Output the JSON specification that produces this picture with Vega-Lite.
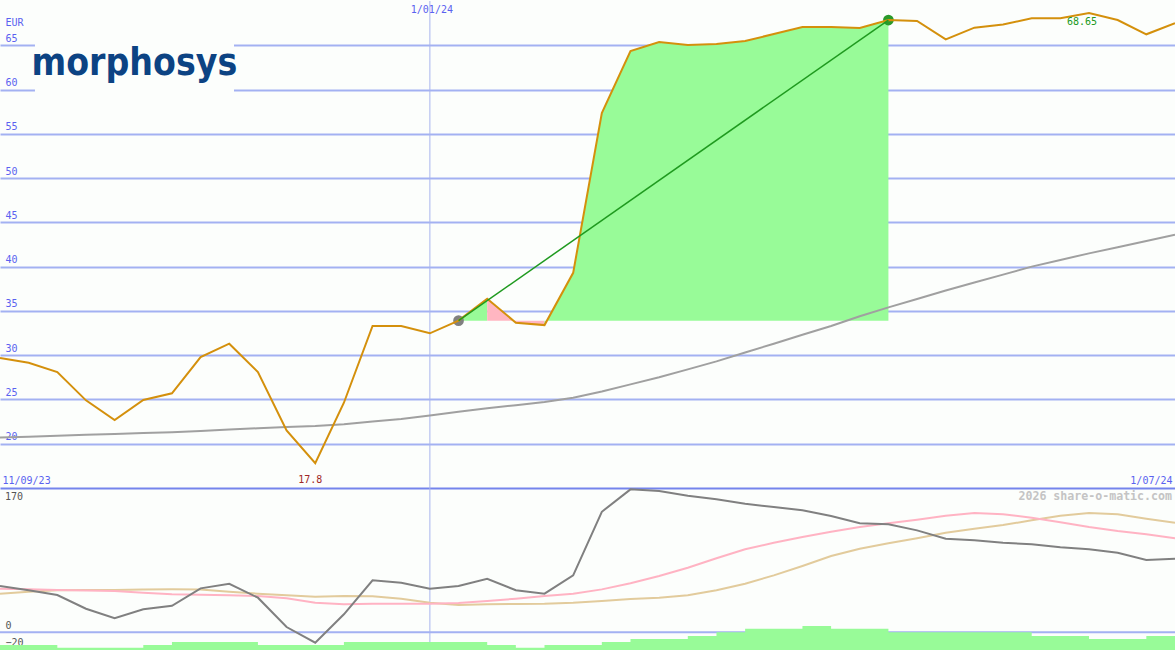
{
  "$schema": "https://vega.github.io/schema/vega-lite/v6.json",
  "padding": {"left": -4, "top": 0, "right": 0, "bottom": 0},
  "spacing": 0,
  "bounds": "flush",
  "background": "#fcfefc",
  "config": {"view": {"stroke": null}, "font": "DejaVu Sans Mono"},
  "datasets": {
    "one": [{"n": 1}],
    "price": [
      {"w":0,"p":29.68,"ma":20.7},{"w":1,"p":29.15,"ma":20.8},{"w":2,"p":28.1,"ma":20.9},{"w":3,"p":24.9,"ma":21.0},
      {"w":4,"p":22.68,"ma":21.1},{"w":5,"p":24.94,"ma":21.2},{"w":6,"p":25.69,"ma":21.3},{"w":7,"p":29.79,"ma":21.45},
      {"w":8,"p":31.3,"ma":21.6},{"w":9,"p":28.1,"ma":21.75},{"w":10,"p":21.5,"ma":21.9},{"w":11,"p":17.8,"ma":22.0},
      {"w":12,"p":24.63,"ma":22.2},{"w":13,"p":33.3,"ma":22.5},{"w":14,"p":33.3,"ma":22.8},{"w":15,"p":32.47,"ma":23.2},
      {"w":16,"p":33.9,"ma":23.6},{"w":17,"p":36.38,"ma":24.0},{"w":18,"p":33.67,"ma":24.35},{"w":19,"p":33.4,"ma":24.7},
      {"w":20,"p":39.3,"ma":25.2},{"w":21,"p":57.35,"ma":25.9},{"w":22,"p":64.35,"ma":26.7},{"w":23,"p":65.37,"ma":27.5},
      {"w":24,"p":65.03,"ma":28.4},{"w":25,"p":65.14,"ma":29.3},{"w":26,"p":65.48,"ma":30.3},{"w":27,"p":66.27,"ma":31.3},
      {"w":28,"p":67.06,"ma":32.3},{"w":29,"p":67.06,"ma":33.3},{"w":30,"p":66.95,"ma":34.4},{"w":31,"p":67.85,"ma":35.4},
      {"w":32,"p":67.74,"ma":36.35},{"w":33,"p":65.67,"ma":37.3},{"w":34,"p":66.99,"ma":38.2},{"w":35,"p":67.35,"ma":39.1},
      {"w":36,"p":68.04,"ma":40.0},{"w":37,"p":68.04,"ma":40.75},{"w":38,"p":68.65,"ma":41.5},{"w":39,"p":67.85,"ma":42.2},
      {"w":40,"p":66.24,"ma":42.9},{"w":41,"p":67.5,"ma":43.6}
    ],
    "fill": [
      {"w":16,"p":33.9,"seg":"g1"},{"w":17,"p":36.38,"seg":"g1"},
      {"w":17,"p":36.38,"seg":"r"},{"w":18,"p":33.67,"seg":"r"},{"w":19,"p":33.4,"seg":"r"},
      {"w":19,"p":33.4,"seg":"g2"},{"w":20,"p":39.3,"seg":"g2"},{"w":21,"p":57.35,"seg":"g2"},{"w":22,"p":64.35,"seg":"g2"},
      {"w":23,"p":65.37,"seg":"g2"},{"w":24,"p":65.03,"seg":"g2"},{"w":25,"p":65.14,"seg":"g2"},{"w":26,"p":65.48,"seg":"g2"},
      {"w":27,"p":66.27,"seg":"g2"},{"w":28,"p":67.06,"seg":"g2"},{"w":29,"p":67.06,"seg":"g2"},{"w":30,"p":66.95,"seg":"g2"},
      {"w":31,"p":67.85,"seg":"g2"}
    ],
    "ind": [
      {"w":0,"a":54.5,"b":51.4,"c":45.5,"v":-15},{"w":1,"a":49.5,"b":50.6,"c":47.8,"v":-15},
      {"w":2,"a":43.9,"b":49.8,"c":49.5,"v":-18.1},{"w":3,"a":27.8,"b":49.2,"c":49.8,"v":-18.1},
      {"w":4,"a":16.5,"b":48.6,"c":49.8,"v":-18.1},{"w":5,"a":27.1,"b":46.6,"c":50.4,"v":-15},
      {"w":6,"a":31.3,"b":44.8,"c":50.6,"v":-11.4},{"w":7,"a":51.8,"b":44.3,"c":50.4,"v":-11.4},
      {"w":8,"a":57.2,"b":43.6,"c":47.8,"v":-11.4},{"w":9,"a":40.8,"b":42.8,"c":45.5,"v":-15},
      {"w":10,"a":6.2,"b":40.0,"c":43.6,"v":-15},{"w":11,"a":-12.2,"b":34.9,"c":41.9,"v":-15},
      {"w":12,"a":21.2,"b":33.0,"c":42.8,"v":-11.4},{"w":13,"a":61.2,"b":33.7,"c":42.4,"v":-11.4},
      {"w":14,"a":58.4,"b":33.7,"c":39.6,"v":-11.4},{"w":15,"a":51.4,"b":33.7,"c":34.9,"v":-11.4},
      {"w":16,"a":54.5,"b":34.5,"c":32.2,"v":-11.4},{"w":17,"a":63.1,"b":36.9,"c":33.0,"v":-15},
      {"w":18,"a":49.5,"b":39.6,"c":33.3,"v":-18.1},{"w":19,"a":45.5,"b":42.8,"c":33.7,"v":-15},
      {"w":20,"a":67.1,"b":45.5,"c":34.9,"v":-15},{"w":21,"a":142.0,"b":50.6,"c":36.9,"v":-11.4},
      {"w":22,"a":168.4,"b":57.7,"c":39.2,"v":-7.9},{"w":23,"a":166.4,"b":66.3,"c":40.8,"v":-7.9},
      {"w":24,"a":160.9,"b":76.1,"c":43.6,"v":-4.4},{"w":25,"a":156.7,"b":87.2,"c":49.5,"v":0},
      {"w":26,"a":151.5,"b":97.8,"c":57.2,"v":4.2},{"w":27,"a":147.6,"b":105.5,"c":67.1,"v":4.2},
      {"w":28,"a":143.7,"b":112.2,"c":78.1,"v":7.4},{"w":29,"a":137.0,"b":118.5,"c":89.9,"v":4.2},
      {"w":30,"a":128.4,"b":124.0,"c":98.5,"v":4.2},{"w":31,"a":127.2,"b":128.4,"c":104.8,"v":0},
      {"w":32,"a":120.1,"b":132.6,"c":110.7,"v":0},{"w":33,"a":110.2,"b":137.3,"c":117.3,"v":0},
      {"w":34,"a":108.4,"b":140.5,"c":122.0,"v":0},{"w":35,"a":105.5,"b":139.0,"c":126.4,"v":0},
      {"w":36,"a":103.7,"b":135.0,"c":131.9,"v":-4.4},{"w":37,"a":100.1,"b":129.6,"c":137.3,"v":-4.4},
      {"w":38,"a":97.8,"b":124.0,"c":140.5,"v":-7.9},{"w":39,"a":93.8,"b":119.3,"c":139.0,"v":-7.9},
      {"w":40,"a":85.2,"b":115.4,"c":133.8,"v":-4.4},{"w":41,"a":86.7,"b":110.7,"c":129.1,"v":-4.4}
    ]
  },
  "vconcat": [
    {
      "width": 1175,
      "height": 487,
      "layer": [
        {
          "data": {"name": "one"},
          "mark": {"type": "rule", "color": "#a8b4ee", "strokeWidth": 1},
          "encoding": {"x": {"datum": 15}}
        },
        {
          "data": {"name": "price"},
          "mark": {"type": "line", "color": "#d4900c", "strokeWidth": 2, "opacity": 0},
          "encoding": {
            "x": {"field": "w", "type": "quantitative", "scale": {"domain": [0, 41], "nice": false, "zero": false},
              "axis": {"orient": "bottom", "values": [0, 41], "labelExpr": "datum.value == 0 ? '11/09/23' : '1/07/24'",
                "grid": false, "ticks": false, "domain": true, "domainColor": "#7484ec", "domainWidth": 2,
                "labelPadding": -3, "labelBaseline": "bottom", "labelFlush": false,
                "labelAlign": {"condition": {"test": "datum.value == 0", "value": "left"}, "value": "right"},
                "labelOffset": {"condition": {"test": "datum.value == 0", "value": 2}, "value": -3},
                "labelColor": "#5a62f0", "labelFont": "DejaVu Sans Mono", "labelFontSize": 10, "title": null}},
            "y": {"field": "p", "type": "quantitative", "scale": {"domain": [15, 70], "nice": false, "zero": false},
              "axis": {"values": [20, 25, 30, 35, 40, 45, 50, 55, 60, 65], "grid": true, "gridColor": "#a3b1f2", "gridWidth": 2,
                "domain": false, "ticks": false, "labelAlign": "left", "labelBaseline": "bottom", "labelPadding": -5, "labelOffset": -2,
                "labelColor": "#5a62f0", "labelFont": "DejaVu Sans Mono", "labelFontSize": 10,
                "title": "EUR", "titleAngle": 0, "titleX": 5, "titleY": 26, "titleAlign": "left", "titleBaseline": "bottom",
                "titleFont": "DejaVu Sans Mono", "titleFontSize": 10, "titleFontWeight": "normal", "titleColor": "#5a62f0"}}
          }
        },
        {
          "data": {"name": "one"},
          "mark": {"type": "rect", "color": "#fcfefc"},
          "encoding": {"x": {"datum": 1.22}, "x2": {"datum": 8.165}, "y": {"datum": 65.93}, "y2": {"datum": 59.4}}
        },
        {
          "data": {"name": "one"},
          "mark": {"type": "text", "text": "morphosys", "font": "DejaVu Sans Condensed, DejaVu Sans, sans-serif", "fontWeight": "bold", "fontSize": 37, "color": "#0c4383", "align": "center", "baseline": "alphabetic"},
          "encoding": {"x": {"datum": 4.69}, "y": {"datum": 61.64}}
        },
        {
          "data": {"name": "fill"},
          "mark": {"type": "area", "opacity": 1},
          "encoding": {
            "x": {"field": "w", "type": "quantitative"},
            "y": {"field": "p", "type": "quantitative"},
            "y2": {"datum": 33.9},
            "color": {"field": "seg", "type": "nominal", "scale": {"domain": ["g1", "r", "g2"], "range": ["#98fb98", "#ffb6c1", "#98fb98"]}, "legend": null}
          }
        },
        {
          "data": {"name": "price"},
          "mark": {"type": "line", "color": "#a0a0a0", "strokeWidth": 2},
          "encoding": {"x": {"field": "w", "type": "quantitative"}, "y": {"field": "ma", "type": "quantitative"}}
        },
        {
          "data": {"name": "price"},
          "transform": [{"filter": "datum.w == 16 || datum.w == 31"}],
          "mark": {"type": "point", "filled": true, "size": 115, "opacity": 1},
          "encoding": {
            "x": {"field": "w", "type": "quantitative"},
            "y": {"field": "p", "type": "quantitative"},
            "color": {"condition": {"test": "datum.w == 16", "value": "#808080"}, "value": "#2a9a2a"}
          }
        },
        {
          "data": {"name": "price"},
          "mark": {"type": "line", "color": "#d4900c", "strokeWidth": 2},
          "encoding": {"x": {"field": "w", "type": "quantitative"}, "y": {"field": "p", "type": "quantitative"}}
        },
        {
          "data": {"name": "price"},
          "transform": [{"filter": "datum.w == 16 || datum.w == 31"}],
          "mark": {"type": "line", "color": "#1f9a1f", "strokeWidth": 1.5},
          "encoding": {"x": {"field": "w", "type": "quantitative"}, "y": {"field": "p", "type": "quantitative"}}
        },
        {
          "data": {"name": "price"},
          "transform": [{"filter": "datum.w == 11"}],
          "mark": {"type": "text", "color": "#a02828", "fontSize": 10, "font": "DejaVu Sans Mono", "align": "center", "baseline": "bottom", "dy": -3, "dx": -5},
          "encoding": {"x": {"field": "w", "type": "quantitative"}, "y": {"datum": 15}, "text": {"field": "p", "type": "quantitative", "format": ".1f"}}
        },
        {
          "data": {"name": "price"},
          "transform": [{"filter": "datum.w == 38"}],
          "mark": {"type": "text", "color": "#229922", "fontSize": 10, "font": "DejaVu Sans Mono", "align": "center", "baseline": "top", "dy": 4, "dx": -7},
          "encoding": {"x": {"field": "w", "type": "quantitative"}, "y": {"field": "p", "type": "quantitative"}, "text": {"field": "p", "type": "quantitative", "format": ".2f"}}
        },
        {
          "data": {"name": "one"},
          "mark": {"type": "text", "text": "1/01/24", "color": "#5a62f0", "fontSize": 10, "font": "DejaVu Sans Mono", "align": "center", "baseline": "top", "dy": 4, "dx": 2},
          "encoding": {"x": {"datum": 15}, "y": {"datum": 70}}
        }
      ]
    },
    {
      "width": 1175,
      "height": 163,
      "layer": [
        {
          "data": {"name": "one"},
          "mark": {"type": "rule", "color": "#a8b4ee", "strokeWidth": 1},
          "encoding": {"x": {"datum": 15, "axis": null}}
        },
        {
          "data": {"name": "one"},
          "mark": {"type": "rule", "color": "#a3b1f2", "strokeWidth": 2},
          "encoding": {"y": {"datum": 0}}
        },
        {
          "data": {"name": "ind"},
          "mark": {"type": "area", "interpolate": "step-after", "color": "#98fb98", "opacity": 1},
          "encoding": {
            "x": {"field": "w", "type": "quantitative", "axis": null},
            "y": {"field": "v", "type": "quantitative"},
            "y2": {"datum": -22}
          }
        },
        {
          "data": {"name": "ind"},
          "mark": {"type": "line", "color": "#e2cb9c", "strokeWidth": 2},
          "encoding": {"x": {"field": "w", "type": "quantitative", "axis": null}, "y": {"field": "c", "type": "quantitative"}}
        },
        {
          "data": {"name": "ind"},
          "mark": {"type": "line", "color": "#ffb3c3", "strokeWidth": 2},
          "encoding": {"x": {"field": "w", "type": "quantitative", "axis": null}, "y": {"field": "b", "type": "quantitative"}}
        },
        {
          "data": {"name": "ind"},
          "mark": {"type": "line", "color": "#808080", "strokeWidth": 2},
          "encoding": {
            "x": {"field": "w", "type": "quantitative", "scale": {"domain": [0, 41], "nice": false, "zero": false}, "axis": null},
            "y": {"field": "a", "type": "quantitative", "scale": {"domain": [-22, 170], "nice": false, "zero": false},
              "axis": {"values": [0, -20], "grid": false, "domain": false, "ticks": false,
                "labelAlign": "left", "labelBaseline": "bottom", "labelPadding": -5, "labelOffset": -2, "labelColor": "#555555",
                "labelFont": "DejaVu Sans Mono", "labelFontSize": 10, "title": null}}
          }
        },
        {
          "data": {"name": "one"},
          "mark": {"type": "text", "text": "170", "color": "#555555", "fontSize": 10, "font": "DejaVu Sans Mono", "align": "left", "baseline": "top", "dx": 5, "dy": 4},
          "encoding": {"x": {"datum": 0, "axis": null}, "y": {"datum": 170}}
        },
        {
          "data": {"name": "one"},
          "mark": {"type": "text", "text": "2026 share-o-matic.com", "color": "#c4c4c4", "fontSize": 11.6, "fontWeight": "bold", "font": "DejaVu Sans Mono", "align": "right", "baseline": "top", "dx": -3, "dy": 3},
          "encoding": {"x": {"datum": 41, "axis": null}, "y": {"datum": 170}}
        }
      ]
    }
  ]
}
